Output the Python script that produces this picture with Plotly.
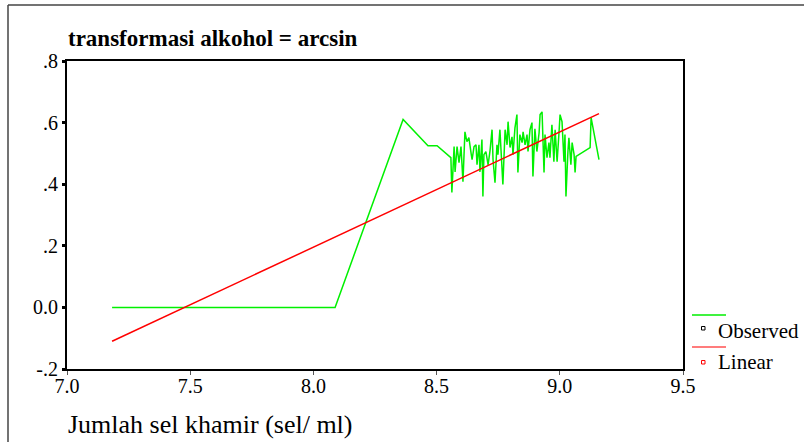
import plotly.graph_objects as go

# ---- data ----
obs_x = [7.183, 7.35, 7.55, 7.75, 7.95, 8.088, 8.364, 8.465, 8.502,
         8.546, 8.558, 8.562, 8.571, 8.575, 8.583, 8.591, 8.599, 8.607, 8.615,
         8.623, 8.631, 8.640, 8.644, 8.652, 8.660, 8.664, 8.672, 8.676, 8.684,
         8.688, 8.692, 8.700, 8.709, 8.717, 8.725, 8.729, 8.737, 8.745, 8.749,
         8.757, 8.765, 8.769, 8.778, 8.786, 8.790, 8.798, 8.806, 8.810, 8.818,
         8.826, 8.830, 8.838, 8.847, 8.851, 8.859, 8.867, 8.871, 8.879, 8.887,
         8.891, 8.899, 8.907, 8.916, 8.920, 8.928, 8.936, 8.940, 8.948, 8.956,
         8.960, 8.968, 8.976, 8.981, 8.989, 8.997, 9.001, 9.009, 9.017, 9.021,
         9.025, 9.033, 9.037, 9.045, 9.050, 9.058, 9.062, 9.066, 9.123, 9.127,
         9.159]
obs_y = [0.0, 0.0, 0.0, 0.0, 0.0, 0.0, 0.61, 0.525, 0.525,
         0.496, 0.486, 0.373, 0.522, 0.44, 0.522, 0.47, 0.522, 0.408, 0.57,
         0.538, 0.551, 0.50, 0.48, 0.522, 0.528, 0.463, 0.528, 0.44, 0.545,
         0.36, 0.496, 0.506, 0.463, 0.51, 0.577, 0.48, 0.405, 0.528, 0.496,
         0.577, 0.48, 0.399, 0.577, 0.528, 0.603, 0.519, 0.554, 0.496, 0.583,
         0.626, 0.438, 0.561, 0.535, 0.57, 0.528, 0.561, 0.506, 0.577, 0.60,
         0.425, 0.58, 0.506, 0.567, 0.626, 0.635, 0.438, 0.561, 0.486, 0.535,
         0.486, 0.593, 0.473, 0.577, 0.473, 0.57, 0.626, 0.603, 0.473, 0.561,
         0.36, 0.506, 0.551, 0.463, 0.535, 0.496, 0.438, 0.49, 0.519, 0.616,
         0.48]

lin_x = [7.183, 9.159]
lin_y = [-0.110, 0.629]

x_ticks = [7.0, 7.5, 8.0, 8.5, 9.0, 9.5]
x_ticktext = ["7.0", "7.5", "8.0", "8.5", "9.0", "9.5"]
y_ticks = [-0.2, 0.0, 0.2, 0.4, 0.6, 0.8]
y_ticktext = ["-.2", "0.0", ".2", ".4", ".6", ".8"]

title_text = "transformasi alkohol = arcsin"
xlabel_text = "Jumlah sel khamir (sel/ ml)"
legend_names = ["Observed", "Linear"]

FONT = "Liberation Serif"
W, H = 804, 442
L, R, T, B = 67, 683, 61, 369


def px(x):
    return (x - L) / (R - L)


def py(y):
    return (B - y) / (B - T)


fig = go.Figure()
fig.add_trace(go.Scatter(x=obs_x, y=obs_y, mode="lines", name=legend_names[0],
                         line=dict(color="#00f000", width=1.5), showlegend=False))
fig.add_trace(go.Scatter(x=lin_x, y=lin_y, mode="lines", name=legend_names[1],
                         line=dict(color="#ff0000", width=1.5), showlegend=False))

shapes = []
# outer frame (top and left)
shapes.append(dict(type="line", xref="paper", yref="paper", x0=px(8), x1=px(806),
                   y0=py(5), y1=py(5), line=dict(color="#444444", width=1.5)))
shapes.append(dict(type="line", xref="paper", yref="paper", x0=px(8), x1=px(8),
                   y0=py(5), y1=py(444), line=dict(color="#444444", width=1.5)))
# legend lines
shapes.append(dict(type="line", xref="paper", yref="paper", x0=px(692), x1=px(726),
                   y0=py(315), y1=py(315), line=dict(color="#00ee00", width=1.5)))
shapes.append(dict(type="line", xref="paper", yref="paper", x0=px(692), x1=px(726),
                   y0=py(347), y1=py(347), line=dict(color="#ff5050", width=1.5)))
# legend markers
shapes.append(dict(type="rect", xref="paper", yref="paper", x0=px(701.5), x1=px(705),
                   y0=py(326.5), y1=py(330), line=dict(color="#000000", width=1),
                   fillcolor="white"))
shapes.append(dict(type="rect", xref="paper", yref="paper", x0=px(701.5), x1=px(705),
                   y0=py(360.5), y1=py(364), line=dict(color="#ff0000", width=1),
                   fillcolor="white"))

annotations = [
    dict(text="<b>" + title_text + "</b>", xref="paper", yref="paper",
         x=px(66), y=py(38), xanchor="left", yanchor="middle", showarrow=False,
         font=dict(family=FONT, size=23, color="black")),
    dict(text=xlabel_text, xref="paper", yref="paper",
         x=px(66), y=py(424), xanchor="left", yanchor="middle", showarrow=False,
         font=dict(family=FONT, size=26, color="black")),
    dict(text=legend_names[0], xref="paper", yref="paper",
         x=px(716), y=py(331), xanchor="left", yanchor="middle", showarrow=False,
         font=dict(family=FONT, size=21, color="black")),
    dict(text=legend_names[1], xref="paper", yref="paper",
         x=px(716), y=py(362), xanchor="left", yanchor="middle", showarrow=False,
         font=dict(family=FONT, size=21, color="black")),
]

fig.update_layout(
    width=W, height=H,
    margin=dict(l=L, r=W - R, t=T, b=H - B, pad=0),
    paper_bgcolor="white", plot_bgcolor="white",
    showlegend=False,
    shapes=shapes, annotations=annotations,
    font=dict(family=FONT, size=16, color="black"),
)
fig.update_xaxes(range=[7.0, 9.5], tickvals=x_ticks, ticktext=x_ticktext,
                 showgrid=False, zeroline=False, showline=True, mirror=True,
                 linecolor="black", linewidth=2, ticks="outside", ticklen=4,
                 tickwidth=1, tickcolor="#555555", ticklabelstandoff=-6,
                 tickfont=dict(family=FONT, size=20, color="black"))
fig.update_yaxes(range=[-0.2, 0.8], tickvals=y_ticks, ticktext=y_ticktext,
                 showgrid=False, zeroline=False, showline=True, mirror=True,
                 linecolor="black", linewidth=2, ticks="outside", ticklen=3,
                 tickwidth=3, tickcolor="black",
                 tickfont=dict(family=FONT, size=20, color="black"))

fig.write_html("out.html", config={"displayModeBar": False},
               post_script="document.body.style.margin='0';document.body.style.padding='0';")
